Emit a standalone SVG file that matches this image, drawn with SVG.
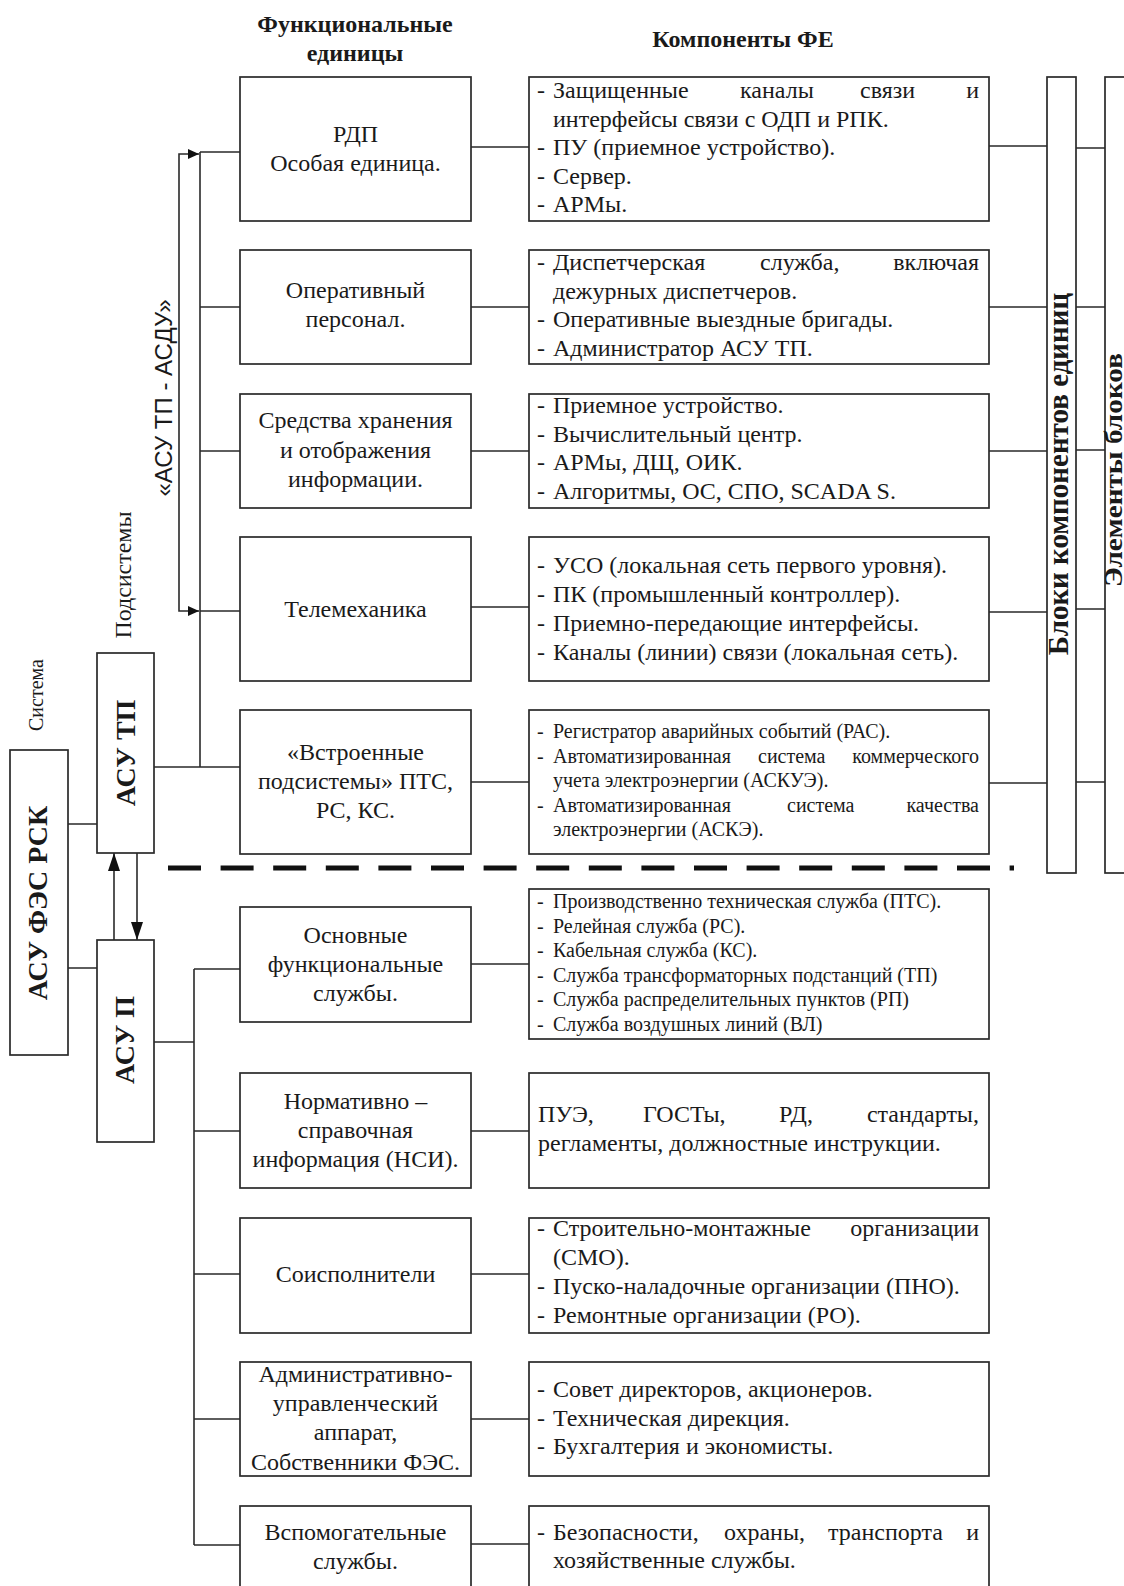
<svg xmlns="http://www.w3.org/2000/svg" width="1124" height="1586" viewBox="0 0 1124 1586">
<style>
.bg{fill:#fff}
.box{fill:#fff;stroke:#2a2a2a;stroke-width:1.7}
.ln{stroke:#2a2a2a;stroke-width:1.6;fill:none}
.dash{stroke:#111;stroke-width:5;fill:none;stroke-dasharray:33 19.6}
.t{font-family:"Liberation Serif","Times New Roman",serif;font-size:24px;fill:#1a1a1a}
.s{font-size:20px}
.b{font-weight:bold}
.c{text-anchor:middle}
.e{text-anchor:end}
.sans{font-family:"Liberation Sans",Arial,sans-serif}
</style>
<defs>
<marker id="arS" viewBox="0 0 10 10" refX="10" refY="5" markerWidth="11" markerHeight="10" markerUnits="userSpaceOnUse" orient="auto" preserveAspectRatio="none"><path d="M0,0 L10,5 L0,10 z" fill="#111"/></marker>
<marker id="arL" viewBox="0 0 10 10" refX="10" refY="5" markerWidth="18" markerHeight="12" markerUnits="userSpaceOnUse" orient="auto" preserveAspectRatio="none"><path d="M0,0 L10,5 L0,10 z" fill="#111"/></marker>
</defs>
<rect class="bg" x="0" y="0" width="1124" height="1586"/>

<g id="headers" class="t b">
<text class="c" x="355" y="32">Функциональные</text>
<text class="c" x="355" y="61">единицы</text>
<text class="c" x="743" y="47">Компоненты ФЕ</text>
</g>

<g id="side-labels" class="t">
<text transform="translate(43,695) rotate(-90)" class="c" font-size="20">Система</text>
<text transform="translate(131,575) rotate(-90)" class="c" font-size="23" textLength="127" lengthAdjust="spacingAndGlyphs">Подсистемы</text>
<text transform="translate(172,398) rotate(-90)" class="c sans" font-size="23" textLength="197" lengthAdjust="spacingAndGlyphs">«АСУ ТП - АСДУ»</text>
</g>

<g id="connectors">
<path class="ln" d="M200,152 V767 M200,152 H240 M200,307 H240 M200,451 H240 M200,611 H240 M154,767 H240"/>
<path class="ln" d="M179,382 V154 H199" marker-end="url(#arS)"/>
<path class="ln" d="M179,382 V611 H199" marker-end="url(#arS)"/>
<path class="ln" d="M471,147 H529 M471,307 H529 M471,451 H529 M471,607 H529 M471,782 H529"/>
<path class="ln" d="M989,146 H1047 M989,307 H1047 M989,451 H1047 M989,612 H1047 M989,783 H1047"/>
<path class="ln" d="M1076,148 H1105 M1076,307 H1105 M1076,450 H1105 M1076,609 H1105 M1076,782 H1105"/>
<path class="ln" d="M68,824 H97 M68,968 H97"/>
<path class="ln" d="M114,940 V853" marker-end="url(#arL)"/>
<path class="ln" d="M137,853 V940" marker-end="url(#arL)"/>
<path class="ln" d="M194,969 V1545 M194,969 H240 M194,1131 H240 M194,1274 H240 M194,1419 H240 M194,1545 H240 M154,1042 H194"/>
<path class="ln" d="M471,964 H529 M471,1131 H529 M471,1274 H529 M471,1419 H529 M471,1544 H529"/>
<path class="dash" d="M168,868 H1014"/>
</g>

<g id="sys-asu-fes" class="t b">
<rect class="box" x="10" y="750" width="58" height="305"/>
<text transform="translate(47,903) rotate(-90)" class="c" font-size="28">АСУ ФЭС РСК</text>
</g>
<g id="sub-asutp" class="t b">
<rect class="box" x="97" y="653" width="57" height="200"/>
<text transform="translate(135,753) rotate(-90)" class="c" font-size="28">АСУ ТП</text>
</g>
<g id="sub-asup" class="t b">
<rect class="box" x="97" y="940" width="57" height="202"/>
<text transform="translate(134,1040) rotate(-90)" class="c" font-size="28">АСУ П</text>
</g>

<g id="fe-rdp" class="t c">
<rect class="box" x="240" y="77" width="231" height="144"/>
<text x="355.5" y="142">РДП</text>
<text x="355.5" y="171">Особая единица.</text>
</g>
<g id="fe-oper" class="t c">
<rect class="box" x="240" y="250" width="231" height="114"/>
<text x="355.5" y="298">Оперативный</text>
<text x="355.5" y="327">персонал.</text>
</g>
<g id="fe-storage" class="t c">
<rect class="box" x="240" y="394" width="231" height="114"/>
<text x="355.5" y="428">Средства хранения</text>
<text x="355.5" y="457.5">и отображения</text>
<text x="355.5" y="487">информации.</text>
</g>
<g id="fe-telemech" class="t c">
<rect class="box" x="240" y="537" width="231" height="144"/>
<text x="355.5" y="617">Телемеханика</text>
</g>
<g id="fe-embedded" class="t c">
<rect class="box" x="240" y="710" width="231" height="144"/>
<text x="355.5" y="760">«Встроенные</text>
<text x="355.5" y="789">подсистемы» ПТС,</text>
<text x="355.5" y="818">РС, КС.</text>
</g>
<g id="fe-main" class="t c">
<rect class="box" x="240" y="907" width="231" height="115"/>
<text x="355.5" y="943">Основные</text>
<text x="355.5" y="972">функциональные</text>
<text x="355.5" y="1001">службы.</text>
</g>
<g id="fe-nsi" class="t c">
<rect class="box" x="240" y="1073" width="231" height="115"/>
<text x="355.5" y="1109">Нормативно –</text>
<text x="355.5" y="1138">справочная</text>
<text x="355.5" y="1167">информация (НСИ).</text>
</g>
<g id="fe-co" class="t c">
<rect class="box" x="240" y="1218" width="231" height="115"/>
<text x="355.5" y="1282">Соисполнители</text>
</g>
<g id="fe-admin" class="t c">
<rect class="box" x="240" y="1362" width="231" height="114"/>
<text x="355.5" y="1382">Административно-</text>
<text x="355.5" y="1411">управленческий</text>
<text x="355.5" y="1440">аппарат,</text>
<text x="355.5" y="1470">Собственники ФЭС.</text>
</g>
<g id="fe-aux" class="t c">
<rect class="box" x="240" y="1506" width="231" height="90"/>
<text x="355.5" y="1540">Вспомогательные</text>
<text x="355.5" y="1569">службы.</text>
</g>

<g id="comp-rdp" class="t">
<rect class="box" x="529" y="77" width="460" height="144"/>
<text x="537" y="98">-</text><text x="553" y="98">Защищенные</text><text x="740" y="98">каналы</text><text x="860" y="98">связи</text><text class="e" x="979" y="98">и</text>
<text x="553" y="126.6">интерфейсы связи с ОДП и РПК.</text>
<text x="537" y="155.2">-</text><text x="553" y="155.2">ПУ (приемное устройство).</text>
<text x="537" y="183.8">-</text><text x="553" y="183.8">Сервер.</text>
<text x="537" y="212.4">-</text><text x="553" y="212.4">АРМы.</text>
</g>
<g id="comp-oper" class="t">
<rect class="box" x="529" y="250" width="460" height="114"/>
<text x="537" y="270">-</text><text x="553" y="270">Диспетчерская</text><text x="760" y="270">служба,</text><text class="e" x="979" y="270">включая</text>
<text x="553" y="298.6">дежурных диспетчеров.</text>
<text x="537" y="327.2">-</text><text x="553" y="327.2">Оперативные выездные бригады.</text>
<text x="537" y="355.8">-</text><text x="553" y="355.8">Администратор АСУ ТП.</text>
</g>
<g id="comp-storage" class="t">
<rect class="box" x="529" y="394" width="460" height="114"/>
<text x="537" y="413">-</text><text x="553" y="413">Приемное устройство.</text>
<text x="537" y="441.5">-</text><text x="553" y="441.5">Вычислительный центр.</text>
<text x="537" y="470">-</text><text x="553" y="470">АРМы, ДЩ, ОИК.</text>
<text x="537" y="498.5">-</text><text x="553" y="498.5">Алгоритмы, ОС, СПО, SCADA S.</text>
</g>
<g id="comp-telemech" class="t">
<rect class="box" x="529" y="537" width="460" height="144"/>
<text x="537" y="573">-</text><text x="553" y="573">УСО (локальная сеть первого уровня).</text>
<text x="537" y="602">-</text><text x="553" y="602">ПК (промышленный контроллер).</text>
<text x="537" y="631">-</text><text x="553" y="631">Приемно-передающие интерфейсы.</text>
<text x="537" y="660">-</text><text x="553" y="660">Каналы (линии) связи (локальная сеть).</text>
</g>
<g id="comp-embedded" class="t s">
<rect class="box" x="529" y="710" width="460" height="144"/>
<text x="537" y="738">-</text><text x="553" y="738">Регистратор аварийных событий (РАС).</text>
<text x="537" y="762.5">-</text><text x="553" y="762.5">Автоматизированная</text><text x="758" y="762.5">система</text><text class="e" x="979" y="762.5">коммерческого</text>
<text x="553" y="787">учета электроэнергии (АСКУЭ).</text>
<text x="537" y="811.5">-</text><text x="553" y="811.5">Автоматизированная</text><text x="787" y="811.5">система</text><text class="e" x="979" y="811.5">качества</text>
<text x="553" y="836">электроэнергии (АСКЭ).</text>
</g>
<g id="comp-main" class="t s">
<rect class="box" x="529" y="889" width="460" height="150"/>
<text x="537" y="908">-</text><text x="553" y="908">Производственно техническая служба (ПТС).</text>
<text x="537" y="932.6">-</text><text x="553" y="932.6">Релейная служба (РС).</text>
<text x="537" y="957.2">-</text><text x="553" y="957.2">Кабельная служба (КС).</text>
<text x="537" y="981.8">-</text><text x="553" y="981.8">Служба трансформаторных подстанций (ТП)</text>
<text x="537" y="1006.4">-</text><text x="553" y="1006.4">Служба распределительных пунктов (РП)</text>
<text x="537" y="1031">-</text><text x="553" y="1031">Служба воздушных линий (ВЛ)</text>
</g>
<g id="comp-nsi" class="t">
<rect class="box" x="529" y="1073" width="460" height="115"/>
<text x="538" y="1122">ПУЭ,</text><text x="643" y="1122">ГОСТы,</text><text x="779" y="1122">РД,</text><text class="e" x="979" y="1122">стандарты,</text>
<text x="538" y="1151">регламенты, должностные инструкции.</text>
</g>
<g id="comp-co" class="t">
<rect class="box" x="529" y="1218" width="460" height="115"/>
<text x="537" y="1236">-</text><text x="553" y="1236">Строительно-монтажные</text><text class="e" x="979" y="1236">организации</text>
<text x="553" y="1265">(СМО).</text>
<text x="537" y="1294">-</text><text x="553" y="1294">Пуско-наладочные организации (ПНО).</text>
<text x="537" y="1323">-</text><text x="553" y="1323">Ремонтные организации (РО).</text>
</g>
<g id="comp-admin" class="t">
<rect class="box" x="529" y="1362" width="460" height="114"/>
<text x="537" y="1397">-</text><text x="553" y="1397">Совет директоров, акционеров.</text>
<text x="537" y="1425.5">-</text><text x="553" y="1425.5">Техническая дирекция.</text>
<text x="537" y="1454">-</text><text x="553" y="1454">Бухгалтерия и экономисты.</text>
</g>
<g id="comp-aux" class="t">
<rect class="box" x="529" y="1506" width="460" height="90"/>
<text x="537" y="1540">-</text><text x="553" y="1540">Безопасности,</text><text x="724" y="1540">охраны,</text><text x="828" y="1540">транспорта</text><text class="e" x="979" y="1540">и</text>
<text x="553" y="1568">хозяйственные службы.</text>
</g>

<g id="blocks" class="t b">
<rect class="box" x="1047" y="77" width="29" height="796"/>
<text transform="translate(1068,474) rotate(-90)" class="c" font-size="29">Блоки компонентов единиц</text>
</g>
<g id="elements" class="t b">
<rect class="box" x="1105" y="77" width="40" height="796"/>
<text transform="translate(1122,470) rotate(-90)" class="c" font-size="25" textLength="234" lengthAdjust="spacingAndGlyphs">Элементы блоков</text>
</g>
</svg>
